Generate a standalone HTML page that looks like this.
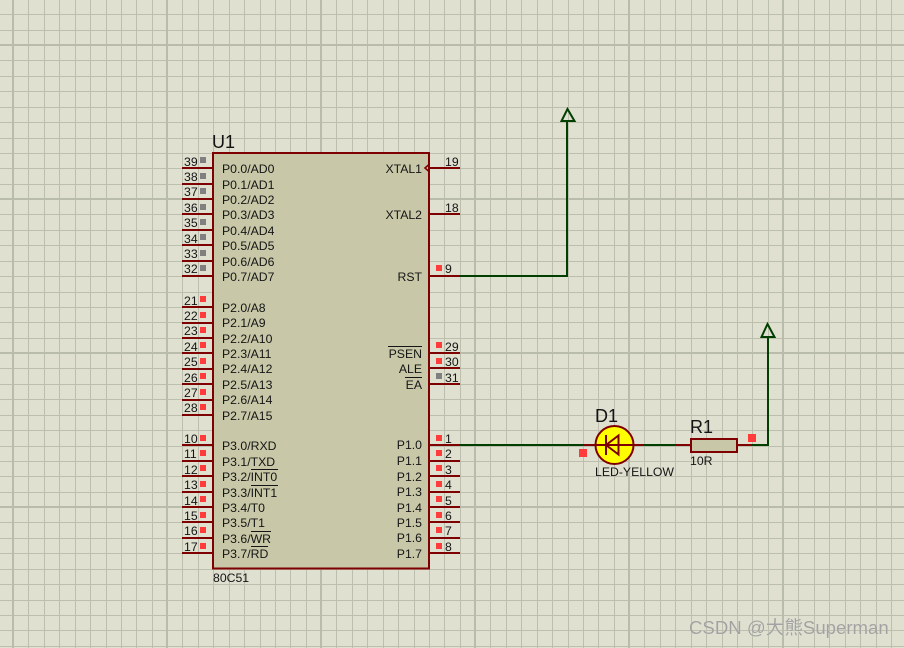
<!DOCTYPE html>
<html><head><meta charset="utf-8"><style>
html,body{margin:0;padding:0;width:904px;height:648px;overflow:hidden;background:#dfe0d0}
svg{display:block}
text{font-family:"Liberation Sans","Noto Sans CJK SC",sans-serif;font-size:12.25px;fill:#141414}
.t{font-size:18px}
.e{text-anchor:end}
</style></head><body>
<svg width="904" height="648" viewBox="0 0 904 648" xmlns="http://www.w3.org/2000/svg">
<defs>
<pattern id="g" patternUnits="userSpaceOnUse" x="12" y="44" width="154" height="154">
<g fill="#bcbfae" shape-rendering="crispEdges">
<rect x="16" y="0" width="1" height="154"/><rect x="32" y="0" width="1" height="154"/><rect x="47" y="0" width="1" height="154"/><rect x="63" y="0" width="1" height="154"/><rect x="78" y="0" width="1" height="154"/><rect x="94" y="0" width="1" height="154"/><rect x="109" y="0" width="1" height="154"/><rect x="124" y="0" width="1" height="154"/><rect x="140" y="0" width="1" height="154"/>
<rect x="0" y="16" width="154" height="1"/><rect x="0" y="32" width="154" height="1"/><rect x="0" y="47" width="154" height="1"/><rect x="0" y="63" width="154" height="1"/><rect x="0" y="78" width="154" height="1"/><rect x="0" y="94" width="154" height="1"/><rect x="0" y="109" width="154" height="1"/><rect x="0" y="124" width="154" height="1"/><rect x="0" y="140" width="154" height="1"/>
<rect x="0" y="0" width="2" height="154" fill="#b9bcaa"/><rect x="0" y="0" width="154" height="2" fill="#b9bcaa"/>
</g>
</pattern>
</defs>
<rect width="904" height="648" fill="#dfe0d0"/>
<rect width="904" height="648" fill="url(#g)"/>

<!-- green wires -->
<g fill="#003f00" shape-rendering="crispEdges">
<rect x="460" y="275" width="108" height="2"/>
<rect x="566" y="121" width="2" height="156"/>
<rect x="460" y="444" width="123" height="2"/>
<rect x="644" y="444" width="31" height="2"/>
<rect x="752" y="444" width="17" height="2"/>
<rect x="767" y="336" width="2" height="110"/>
</g>
<path d="M567.5 109 L561.5 121 L574.5 121 Z" fill="none" stroke="#003f00" stroke-width="2"/>
<path d="M767.5 324 L761.5 337 L774.5 337 Z" fill="none" stroke="#003f00" stroke-width="2"/>

<!-- IC -->
<rect x="213" y="153" width="216" height="415.5" fill="#c8c8a8" stroke="#7f0000" stroke-width="2"/>

<!-- left pins -->
<g fill="#7f0000" shape-rendering="crispEdges">
<rect x="182" y="167" width="31" height="2"/><rect x="182" y="183" width="31" height="2"/><rect x="182" y="198" width="31" height="2"/><rect x="182" y="213" width="31" height="2"/><rect x="182" y="229" width="31" height="2"/><rect x="182" y="244" width="31" height="2"/><rect x="182" y="260" width="31" height="2"/><rect x="182" y="275" width="31" height="2"/>
<rect x="182" y="306" width="31" height="2"/><rect x="182" y="322" width="31" height="2"/><rect x="182" y="337" width="31" height="2"/><rect x="182" y="352" width="31" height="2"/><rect x="182" y="368" width="31" height="2"/><rect x="182" y="383" width="31" height="2"/><rect x="182" y="399" width="31" height="2"/><rect x="182" y="414" width="31" height="2"/>
<rect x="182" y="444" width="31" height="2"/><rect x="182" y="460" width="31" height="2"/><rect x="182" y="475" width="31" height="2"/><rect x="182" y="491" width="31" height="2"/><rect x="182" y="506" width="31" height="2"/><rect x="182" y="521" width="31" height="2"/><rect x="182" y="537" width="31" height="2"/><rect x="182" y="552" width="31" height="2"/>
<!-- right pins -->
<rect x="429" y="167" width="31" height="2"/><rect x="429" y="213" width="31" height="2"/><rect x="429" y="275" width="31" height="2"/>
<rect x="429" y="352" width="31" height="2"/><rect x="429" y="367" width="31" height="2"/><rect x="429" y="383" width="31" height="2"/>
<rect x="429" y="444" width="31" height="2"/><rect x="429" y="460" width="31" height="2"/><rect x="429" y="475" width="31" height="2"/><rect x="429" y="491" width="31" height="2"/><rect x="429" y="506" width="31" height="2"/><rect x="429" y="521" width="31" height="2"/><rect x="429" y="537" width="31" height="2"/><rect x="429" y="552" width="31" height="2"/>
<!-- LED / resistor leads -->
<rect x="583" y="444" width="61" height="2"/>
<rect x="675" y="444" width="16" height="2"/>
<rect x="737" y="444" width="15" height="2"/>
</g>
<path d="M429 164.5 L425 168 L429 171.5" fill="none" stroke="#7f0000" stroke-width="1.6"/>

<!-- markers -->
<g fill="#808080" shape-rendering="crispEdges">
<rect x="200" y="157" width="6" height="6"/><rect x="200" y="173" width="6" height="6"/><rect x="200" y="188" width="6" height="6"/><rect x="200" y="204" width="6" height="6"/><rect x="200" y="219" width="6" height="6"/><rect x="200" y="234" width="6" height="6"/><rect x="200" y="250" width="6" height="6"/><rect x="200" y="265" width="6" height="6"/>
<rect x="436" y="373" width="6" height="6"/>
</g>
<g fill="#ff3b3b" shape-rendering="crispEdges">
<rect x="200" y="296" width="6" height="6"/><rect x="200" y="312" width="6" height="6"/><rect x="200" y="327" width="6" height="6"/><rect x="200" y="342" width="6" height="6"/><rect x="200" y="358" width="6" height="6"/><rect x="200" y="373" width="6" height="6"/><rect x="200" y="389" width="6" height="6"/><rect x="200" y="404" width="6" height="6"/>
<rect x="200" y="435" width="6" height="6"/><rect x="200" y="450" width="6" height="6"/><rect x="200" y="465" width="6" height="6"/><rect x="200" y="481" width="6" height="6"/><rect x="200" y="496" width="6" height="6"/><rect x="200" y="512" width="6" height="6"/><rect x="200" y="527" width="6" height="6"/><rect x="200" y="543" width="6" height="6"/>
<rect x="436" y="265" width="6" height="6"/>
<rect x="436" y="342" width="6" height="6"/><rect x="436" y="358" width="6" height="6"/>
<rect x="436" y="435" width="6" height="6"/><rect x="436" y="450" width="6" height="6"/><rect x="436" y="465" width="6" height="6"/><rect x="436" y="481" width="6" height="6"/><rect x="436" y="496" width="6" height="6"/><rect x="436" y="512" width="6" height="6"/><rect x="436" y="527" width="6" height="6"/><rect x="436" y="543" width="6" height="6"/>
<rect x="579" y="449" width="8" height="8"/><rect x="748" y="434" width="8" height="8"/>
</g>

<!-- left pin numbers -->
<g>
<text x="184" y="166">39</text><text x="184" y="181">38</text><text x="184" y="196">37</text><text x="184" y="212">36</text><text x="184" y="227">35</text><text x="184" y="243">34</text><text x="184" y="258">33</text><text x="184" y="273">32</text>
<text x="184" y="305">21</text><text x="184" y="320">22</text><text x="184" y="335">23</text><text x="184" y="351">24</text><text x="184" y="366">25</text><text x="184" y="382">26</text><text x="184" y="397">27</text><text x="184" y="412">28</text>
<text x="184" y="443">10</text><text x="184" y="458">11</text><text x="184" y="474">12</text><text x="184" y="489">13</text><text x="184" y="505">14</text><text x="184" y="520">15</text><text x="184" y="535">16</text><text x="184" y="551">17</text>
</g>
<!-- left labels -->
<g>
<text x="222" y="173">P0.0/AD0</text><text x="222" y="189">P0.1/AD1</text><text x="222" y="204">P0.2/AD2</text><text x="222" y="219">P0.3/AD3</text><text x="222" y="235">P0.4/AD4</text><text x="222" y="250">P0.5/AD5</text><text x="222" y="266">P0.6/AD6</text><text x="222" y="281">P0.7/AD7</text>
<text x="222" y="312">P2.0/A8</text><text x="222" y="327">P2.1/A9</text><text x="222" y="343">P2.2/A10</text><text x="222" y="358">P2.3/A11</text><text x="222" y="373">P2.4/A12</text><text x="222" y="389">P2.5/A13</text><text x="222" y="404">P2.6/A14</text><text x="222" y="420">P2.7/A15</text>
<text x="222" y="450">P3.0/RXD</text><text x="222" y="466">P3.1/TXD</text><text x="222" y="481">P3.2/INT0</text><text x="222" y="497">P3.3/INT1</text><text x="222" y="512">P3.4/T0</text><text x="222" y="527">P3.5/T1</text><text x="222" y="543">P3.6/WR</text><text x="222" y="558">P3.7/RD</text>
</g>
<!-- right labels -->
<g>
<text class="e" x="422" y="173">XTAL1</text><text class="e" x="422" y="219">XTAL2</text><text class="e" x="422" y="281">RST</text>
<text class="e" x="422" y="358">PSEN</text><text class="e" x="422" y="373">ALE</text><text class="e" x="422" y="389">EA</text>
<text class="e" x="422" y="449">P1.0</text><text class="e" x="422" y="465">P1.1</text><text class="e" x="422" y="481">P1.2</text><text class="e" x="422" y="496">P1.3</text><text class="e" x="422" y="512">P1.4</text><text class="e" x="422" y="527">P1.5</text><text class="e" x="422" y="542">P1.6</text><text class="e" x="422" y="558">P1.7</text>
</g>
<!-- right pin numbers -->
<g>
<text x="445" y="166">19</text><text x="445" y="212">18</text><text x="445" y="273">9</text>
<text x="445" y="351">29</text><text x="445" y="366">30</text><text x="445" y="382">31</text>
<text x="445" y="443">1</text><text x="445" y="458">2</text><text x="445" y="474">3</text><text x="445" y="489">4</text><text x="445" y="505">5</text><text x="445" y="520">6</text><text x="445" y="535">7</text><text x="445" y="551">8</text>
</g>
<!-- overbars -->
<g fill="#141414" shape-rendering="crispEdges">
<rect x="388" y="346" width="34" height="1"/><rect x="405" y="377" width="17" height="1"/>
<rect x="251" y="469" width="27" height="1"/><rect x="251" y="485" width="27" height="1"/><rect x="251" y="531" width="20" height="1"/><rect x="251" y="546" width="17" height="1"/>
</g>

<text class="t" x="212" y="148">U1</text>
<text x="213" y="582">80C51</text>

<!-- LED -->
<circle cx="614.5" cy="445" r="19" fill="#ffff00" stroke="#7f0000" stroke-width="2"/>
<rect x="595" y="444" width="39" height="2" fill="#7f0000"/>
<path d="M618.5 435.5 L618.5 454.5 L606 445 Z" fill="none" stroke="#7f0000" stroke-width="2"/>
<rect x="605" y="435" width="2" height="20" fill="#7f0000"/>
<text class="t" x="595" y="422">D1</text>
<text x="595" y="476">LED-YELLOW</text>

<!-- Resistor -->
<rect x="691" y="439" width="46" height="13" fill="#c8c8a8" stroke="#7f0000" stroke-width="2"/>
<text class="t" x="690" y="433">R1</text>
<text x="690" y="465">10R</text>

<!-- watermark -->
<text x="689" y="634" style="font-size:18.6px;fill:#a2a2a0;stroke:#ecece4;stroke-width:.3px;paint-order:stroke">CSDN @大熊Superman</text>
</svg>
</body></html>
